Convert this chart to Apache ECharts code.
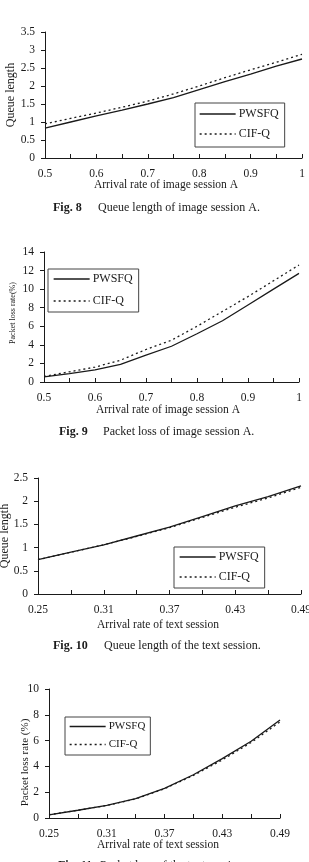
<!DOCTYPE html>
<html>
<head>
<meta charset="utf-8">
<script src="https://cdn.jsdelivr.net/npm/echarts@6/dist/echarts.min.js"></script>
<style>
  html, body { margin: 0; padding: 0; background: #fff; }
  #main { width: 309px; height: 862px; }
</style>
</head>
<body>
<div id="main"></div>
<script>
// x categories
var rateImage = ['0.5', '0.55', '0.6', '0.65', '0.7', '0.75', '0.8', '0.85', '0.9', '0.95', '1']
var rateText = ['0.25', '0.28', '0.31', '0.34', '0.37', '0.40', '0.43', '0.46', '0.49']

// Fig. 8 queue length, image session A
var queueImagePwsfq = [0.83, 1.0, 1.17, 1.33, 1.5, 1.68, 1.9, 2.12, 2.33, 2.55, 2.75]
var queueImageCifq = [0.95, 1.1, 1.25, 1.41, 1.58, 1.78, 2.0, 2.23, 2.45, 2.66, 2.88]
// Fig. 9 packet loss (%), image session A
var lossImagePwsfq = [0.55, 0.9, 1.3, 1.9, 2.9, 3.85, 5.2, 6.6, 8.3, 10.0, 11.7]
var lossImageCifq = [0.6, 1.1, 1.6, 2.35, 3.5, 4.5, 6.0, 7.6, 9.2, 10.9, 12.6]
// Fig. 10 queue length, text session
var queueTextPwsfq = [0.74, 0.9, 1.06, 1.25, 1.44, 1.67, 1.9, 2.1, 2.33]
var queueTextCifq = [0.74, 0.9, 1.06, 1.24, 1.43, 1.65, 1.87, 2.07, 2.3]
// Fig. 11 packet loss (%), text session
var lossTextPwsfq = [0.25, 0.6, 0.98, 1.5, 2.3, 3.35, 4.6, 5.95, 7.6]
var lossTextCifq = [0.25, 0.6, 0.97, 1.48, 2.27, 3.3, 4.5, 5.85, 7.45]

var seriesNames = ['PWSFQ', 'CIF-Q']

var font = 'Liberation Serif'
var ink = '#1a1a1a'

var panels = [
  {
    cats: rateImage, pw: queueImagePwsfq, cf: queueImageCifq,
    yMax: 3.5, yStep: 0.5,
    xName: 'Arrival rate of image session A', yName: 'Queue length',
    grid: { left: 45, top: 32, width: 257, height: 126 },
    xNameGap: 21, xNameShift: 15, yNameGap: 28, yNameSize: 12, yNamePad: [0, 0, 0, 0],
    legend: { left: 195, top: 103, padding: [5, 6, 7, 4], itemGap: 8, size: 12 },
    fig: 'Fig. 8', caption: 'Queue length of image session A.', capX: 53, capTextX: 98, capY: 208
  },
  {
    cats: rateImage, pw: lossImagePwsfq, cf: lossImageCifq,
    yMax: 14, yStep: 2,
    xName: 'Arrival rate of image session A', yName: 'Packet loss rate(%)',
    grid: { left: 44, top: 252, width: 255, height: 130 },
    xNameGap: 22, xNameShift: 7, yNameGap: 27, yNameSize: 8, yNamePad: [0, 0, 0, 8],
    legend: { left: 48, top: 269, padding: [4, 6, 5, 5], itemGap: 10, size: 12 },
    fig: 'Fig. 9', caption: 'Packet loss of image session A.', capX: 59, capTextX: 103, capY: 432
  },
  {
    cats: rateText, pw: queueTextPwsfq, cf: queueTextCifq,
    yMax: 2.5, yStep: 0.5,
    xName: 'Arrival rate of text session', yName: 'Queue length',
    grid: { left: 38, top: 478, width: 263, height: 116 },
    xNameGap: 25, xNameShift: 23, yNameGap: 27, yNameSize: 12, yNamePad: [0, 0, 0, 0],
    legend: { left: 174, top: 547, padding: [4, 6, 5, 5], itemGap: 8, size: 12 },
    fig: 'Fig. 10', caption: 'Queue length of the text session.', capX: 53, capTextX: 104, capY: 646
  },
  {
    cats: rateText, pw: lossTextPwsfq, cf: lossTextCifq,
    yMax: 10, yStep: 2,
    xName: 'Arrival rate of text session', yName: 'Packet loss rate (%)',
    grid: { left: 49, top: 689, width: 231, height: 129 },
    xNameGap: 21, xNameShift: 13, yNameGap: 18, yNameSize: 11, yNamePad: [0, 18, 0, 0],
    legend: { left: 65, top: 717, padding: [4, 5, 5, 4], itemGap: 7, size: 11 },
    fig: 'Fig. 11', caption: 'Packet loss of the text session.', capX: 58, capTextX: 100, capY: 866
  }
]

var grids = [], xAxes = [], yAxes = [], series = [], legends = [], graphics = []

panels.forEach(function (p, i) {
  grids.push({
    left: p.grid.left, top: p.grid.top, width: p.grid.width, height: p.grid.height,
    containLabel: false,
    outerBoundsMode: 'none'
  })
  xAxes.push({
    type: 'category',
    gridIndex: i,
    data: p.cats,
    boundaryGap: false,
    name: p.xName,
    nameLocation: 'middle',
    nameGap: p.xNameGap,
    nameMoveOverlap: false,
    nameTextStyle: { fontFamily: font, fontSize: 11.5, color: ink, padding: [0, p.xNameShift, 0, 0] },
    axisLine: { show: true, lineStyle: { color: ink, width: 1 } },
    axisTick: { show: true, inside: true, length: 4, interval: 0, lineStyle: { color: ink } },
    axisLabel: { interval: 1, margin: 10, fontFamily: font, fontSize: 11.5, color: ink },
    splitLine: { show: false }
  })
  yAxes.push({
    type: 'value',
    gridIndex: i,
    min: 0,
    max: p.yMax,
    interval: p.yStep,
    name: p.yName,
    nameLocation: 'middle',
    nameGap: p.yNameGap,
    nameMoveOverlap: false,
    nameTextStyle: { fontFamily: font, fontSize: p.yNameSize, color: ink, padding: p.yNamePad },
    axisLine: { show: true, lineStyle: { color: ink, width: 1 } },
    axisTick: { show: true, inside: false, length: 4, lineStyle: { color: ink } },
    axisLabel: { margin: 10, fontFamily: font, fontSize: 11.5, color: ink },
    splitLine: { show: false }
  })
  series.push({
    name: seriesNames[0], type: 'line', xAxisIndex: i, yAxisIndex: i,
    symbol: 'none', lineStyle: { color: ink, width: 1.3 }, itemStyle: { color: ink },
    data: p.pw
  })
  series.push({
    name: seriesNames[1], type: 'line', xAxisIndex: i, yAxisIndex: i,
    symbol: 'none', lineStyle: { color: ink, width: 1.3, type: [2, 3] }, itemStyle: { color: ink },
    data: p.cf
  })
  legends.push({
    data: seriesNames,
    orient: 'vertical',
    left: p.legend.left,
    top: p.legend.top,
    padding: p.legend.padding,
    itemGap: p.legend.itemGap,
    itemWidth: 36,
    itemHeight: p.legend.size,
    borderColor: '#444',
    borderWidth: 1,
    borderRadius: 0,
    backgroundColor: '#fff',
    selectedMode: false,
    itemStyle: { opacity: 0 },
    lineStyle: { width: 1.3 },
    textStyle: { fontFamily: font, fontSize: p.legend.size, color: ink, padding: [0, 0, 0, -2] }
  })
  graphics.push({
    type: 'text', left: p.capX, top: p.capY - 6,
    style: { text: p.fig, font: 'bold 12px "Liberation Serif"', fill: ink }
  })
  graphics.push({
    type: 'text', left: p.capTextX, top: p.capY - 6,
    style: { text: p.caption, font: '12px "Liberation Serif"', fill: ink }
  })
})

var chart = echarts.init(document.getElementById('main'))
chart.setOption({
  animation: false,
  backgroundColor: '#fff',
  grid: grids,
  xAxis: xAxes,
  yAxis: yAxes,
  legend: legends,
  graphic: graphics,
  series: series
})
</script>
</body>
</html>
